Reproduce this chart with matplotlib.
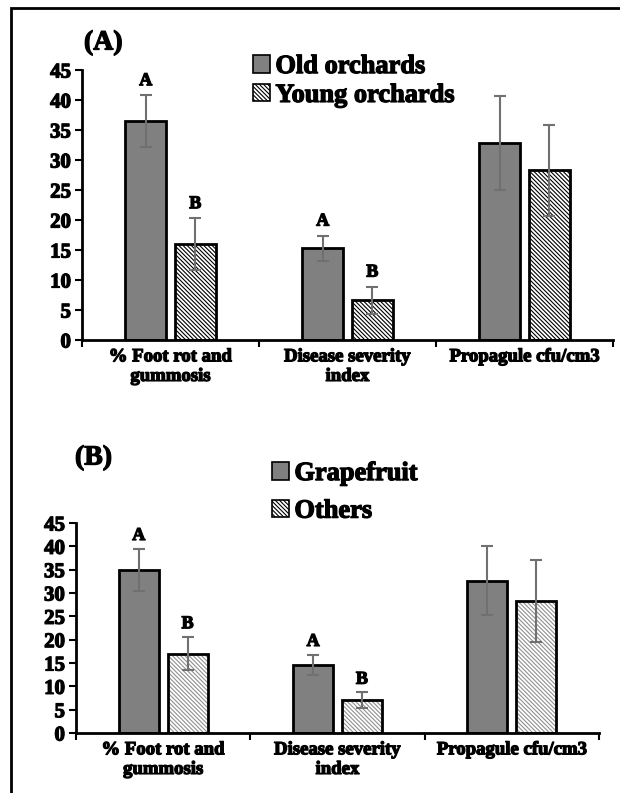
import numpy as np
import matplotlib
matplotlib.use("Agg")
import matplotlib.pyplot as plt
import matplotlib.patheffects as pe
from matplotlib.patches import Rectangle, Patch

SERIF = ["Liberation Serif", "DejaVu Serif"]
plt.rcParams["font.family"] = SERIF
plt.rcParams["font.weight"] = "bold"
plt.rcParams["hatch.linewidth"] = 0.8

categories = ["% Foot rot and\ngummosis", "Disease severity\nindex", "Propagule cfu/cm3"]

# panel A
old_vals = [36.5, 15.3, 32.8]
old_err = [4.3, 2.1, 7.8]
young_vals = [16.0, 6.6, 28.3]
young_err = [4.3, 2.3, 7.6]
letters_a = [("A", "B"), ("A", "B"), ("", "")]

# panel B
grape_vals = [35.0, 14.6, 32.6]
grape_err = [4.5, 2.2, 7.4]
other_vals = [17.0, 7.0, 28.2]
other_err = [3.6, 1.7, 8.8]
letters_b = [("A", "B"), ("A", "B"), ("", "")]

yticks = [0, 5, 10, 15, 20, 25, 30, 35, 40, 45]

heavy = [pe.withStroke(linewidth=0.9, foreground="black")]
HATCH = "\\\\\\\\\\\\\\\\"

fig = plt.figure(figsize=(6.2, 7.93), dpi=100)

# outer frame, cut off at right and bottom like the source image
fig.patches.append(Rectangle((11 / 620, -0.2), 1.2, 1.2 - 8 / 793,
                             transform=fig.transFigure, fill=False,
                             lw=2.0, ec="black", clip_on=False))


def panel(rect, vals1, err1, vals2, err2, letters, hatch_color, names, tag,
          tag_xy, leg_xy, spacing):
    ax = fig.add_axes(rect)
    x = np.arange(len(categories))
    off = 0.14
    w = 0.23
    ax.bar(x - off, vals1, w, color="#808080", edgecolor="black", lw=2, zorder=2)
    ax.bar(x + off, vals2, w, color="white", edgecolor=hatch_color, lw=0,
           hatch=HATCH, zorder=2)
    ax.bar(x + off, vals2, w, color="none", edgecolor="black", lw=2, zorder=3)
    ax.errorbar(x - off, vals1, yerr=err1, fmt="none", ecolor="#707070",
                elinewidth=1.5, capsize=4, capthick=1.5, zorder=4)
    ax.errorbar(x + off, vals2, yerr=err2, fmt="none", ecolor="#707070",
                elinewidth=1.5, capsize=4, capthick=1.5, zorder=4)
    for i, (l1, l2) in enumerate(letters):
        if l1:
            ax.text(x[i] - off, vals1[i] + err1[i] + 1.0, l1, ha="center",
                    va="bottom", fontsize=13, fontweight="bold",
                    path_effects=heavy)
        if l2:
            ax.text(x[i] + off, vals2[i] + err2[i] + 1.0, l2, ha="center",
                    va="bottom", fontsize=13, fontweight="bold",
                    path_effects=heavy)

    ax.set_xlim(-0.5, 2.5)
    ax.set_ylim(0, 45)
    ax.set_yticks(yticks)
    ax.tick_params(axis="y", labelsize=15, width=1.5, length=5, pad=3)
    ax.set_xticks([-0.5, 0.5, 1.5, 2.5])
    ax.set_xticklabels([])
    ax.tick_params(axis="x", which="major", width=1.5, length=5)
    ax.set_xticks(x, minor=True)
    ax.set_xticklabels(categories, minor=True, fontsize=13.5, fontweight="bold")
    ax.tick_params(axis="x", which="minor", length=0, pad=6)
    for s in ["top", "right"]:
        ax.spines[s].set_visible(False)
    for s in ["left", "bottom"]:
        ax.spines[s].set_linewidth(2)
    for lab in ax.get_yticklabels() + ax.get_xticklabels(minor=True):
        lab.set_fontweight("bold")
        lab.set_path_effects(heavy)

    fig.text(tag_xy[0], tag_xy[1], tag, fontsize=20, fontweight="bold",
             ha="left", va="center", path_effects=heavy)
    handles = [Patch(facecolor="#808080", edgecolor="black", lw=1.2),
               Patch(facecolor="white", edgecolor="black", lw=1.2,
                     hatch=HATCH)]
    leg = fig.legend(handles, names, loc="upper left", bbox_to_anchor=leg_xy,
                     frameon=False,
                     prop={"family": SERIF, "size": 19, "weight": "bold"},
                     handlelength=0.65, handleheight=0.65, handletextpad=0.2,
                     labelspacing=spacing, borderpad=0, borderaxespad=0)
    for t in leg.get_texts():
        t.set_path_effects(heavy)
    return ax


panel([82 / 620, 1 - 340 / 793, (613 - 82) / 620, 270 / 793],
      old_vals, old_err, young_vals, young_err, letters_a, "black",
      ["Old orchards", "Young orchards"], "(A)",
      (84 / 620, 1 - 43 / 793), (253 / 620, 1 - 55 / 793), 0.22)

panel([76 / 620, 1 - 733 / 793, (599 - 76) / 620, 210 / 793],
      grape_vals, grape_err, other_vals, other_err, letters_b, "#909090",
      ["Grapefruit", "Others"], "(B)",
      (75 / 620, 1 - 458 / 793), (272 / 620, 1 - 462 / 793), 0.55)

fig.savefig("out.png", dpi=100)
